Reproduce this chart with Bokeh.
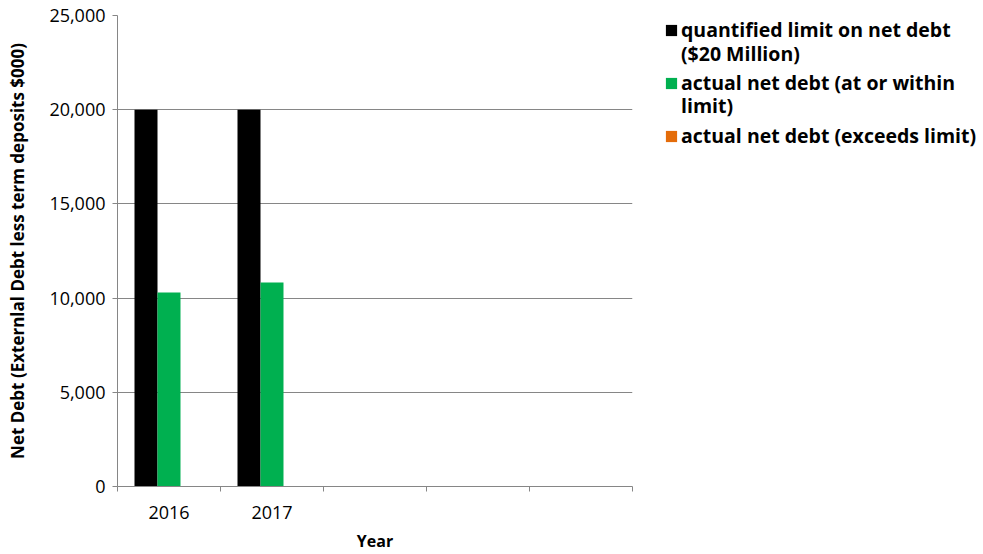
from bokeh.plotting import figure
from bokeh.layouts import row
from bokeh.models import (Range1d, FixedTicker, NumeralTickFormatter, Legend, LegendItem,
                          ColumnDataSource)
from bokeh.embed import file_html
from bokeh.resources import INLINE

# ---- data ----
categories = ["2016", "2017", "", "", ""]
limit_values = [20000, 20000]
within_values = [10300, 10830]
exceeds_values = [0, 0]
series_first_lines = ["quantified limit on net debt",
                      "actual net debt (at or within",
                      "actual net debt (exceeds limit)"]
series_second_lines = ["($20 Million)", "limit)"]
series_colors = ["#000000", "#00B050", "#E46C0A"]
y_ticks = [0, 5000, 10000, 15000, 20000, 25000]

FONT = "Open Sans"
GRID = "#868686"

p = figure(width=640, height=554, output_backend="svg", toolbar_location=None,
           x_range=Range1d(0, len(categories)), y_range=Range1d(0, 25000),
           min_border_left=117, min_border_right=8, min_border_top=15,
           min_border_bottom=66)
p.outline_line_color = None
p.background_fill_color = "white"
p.border_fill_color = "white"

bar_w = 0.2233
offsets = [-bar_w, 0.0, bar_w]
series = [limit_values, within_values, exceeds_values]
for vals, off, col in zip(series, offsets, series_colors):
    xs = [i + 0.5 + off for i in range(len(vals))]
    src = ColumnDataSource(dict(x=xs, top=vals))
    p.vbar(x="x", top="top", width=bar_w, bottom=0, source=src,
           fill_color=col, line_color=None)

# x axis: labels at category centres, tick marks at category boundaries
centers = [i + 0.5 for i in range(len(categories))]
p.xaxis.ticker = FixedTicker(ticks=centers, minor_ticks=list(range(len(categories) + 1)))
p.xaxis.major_label_overrides = {c: lab for c, lab in zip(centers, categories)}
p.xaxis.major_tick_in = 0
p.xaxis.major_tick_out = 0
p.xaxis.minor_tick_in = 0
p.xaxis.minor_tick_out = 5
p.xaxis.minor_tick_line_color = GRID
p.xaxis.axis_line_color = GRID
p.xaxis.major_label_standoff = 14
p.xaxis.major_label_text_font = FONT
p.xaxis.major_label_text_font_size = "18px"
p.xaxis.major_label_text_color = "#000000"
p.xaxis.axis_label = "Year"
p.xaxis.axis_label_text_font = FONT
p.xaxis.axis_label_text_font_size = "16px"
p.xaxis.axis_label_text_font_style = "bold"
p.xaxis.axis_label_text_color = "#000000"
p.xaxis.axis_label_standoff = 8

p.yaxis.ticker = FixedTicker(ticks=y_ticks, minor_ticks=[])
p.yaxis.formatter = NumeralTickFormatter(format="0,0")
p.yaxis.major_tick_in = 0
p.yaxis.major_tick_out = 5
p.yaxis.major_tick_line_color = GRID
p.yaxis.axis_line_color = GRID
p.yaxis.major_label_standoff = 7
p.yaxis.major_label_text_font = FONT
p.yaxis.major_label_text_font_size = "18px"
p.yaxis.major_label_text_color = "#000000"
p.yaxis.axis_label = "Net Debt (Externlal Debt less term deposits $000)"
p.yaxis.axis_label_text_font = FONT
p.yaxis.axis_label_text_font_size = "17px"
p.yaxis.axis_label_text_font_style = "bold"
p.yaxis.axis_label_text_color = "#000000"
p.yaxis.axis_label_standoff = 17

p.xgrid.grid_line_color = None
p.ygrid.ticker = FixedTicker(ticks=y_ticks)
p.ygrid.grid_line_color = GRID
p.ygrid.grid_line_width = 1

# ---- legend panel ----
lg = figure(width=343, height=554, output_backend="svg", toolbar_location=None,
            x_range=Range1d(0, 1), y_range=Range1d(0, 1),
            x_axis_location=None, y_axis_location=None,
            min_border_left=23, min_border_top=15, min_border_right=0,
            min_border_bottom=0)
lg.outline_line_color = None
lg.xgrid.grid_line_color = None
lg.ygrid.grid_line_color = None
lg.border_fill_color = "white"
lg.background_fill_color = "white"

swatches = [lg.vbar(x="x", top="top", width=0.1,
                    source=ColumnDataSource(dict(x=[5], top=[5])),
                    fill_color=c, line_color=None) for c in series_colors]
ghost = lg.vbar(x="x", top="top", width=0.1, source=ColumnDataSource(dict(x=[5], top=[5])),
                fill_alpha=0, line_alpha=0)


def style(leg, spacing):
    leg.location = "top_left"
    leg.border_line_color = None
    leg.background_fill_alpha = 0
    leg.label_text_font = FONT
    leg.label_text_font_size = "19.5px"
    leg.label_text_font_style = "bold"
    leg.label_text_color = "#000000"
    leg.label_height = 20
    leg.glyph_width = 14
    leg.glyph_height = 14
    leg.spacing = spacing
    leg.padding = 0
    leg.margin = 1
    leg.label_standoff = 3


leg_a = Legend(items=[LegendItem(label=t, renderers=[r])
                      for t, r in zip(series_first_lines, swatches)])
style(leg_a, 26)
leg_b = Legend(items=[LegendItem(label=t, renderers=[ghost]) for t in series_second_lines],
               title=" ")
style(leg_b, 25)
leg_b.title_text_font_size = "10px"
leg_b.title_standoff = 13
lg.add_layout(leg_a, "center")
lg.add_layout(leg_b, "center")

layout = row(p, lg)
open("out.html", "w").write(file_html(layout, INLINE))
